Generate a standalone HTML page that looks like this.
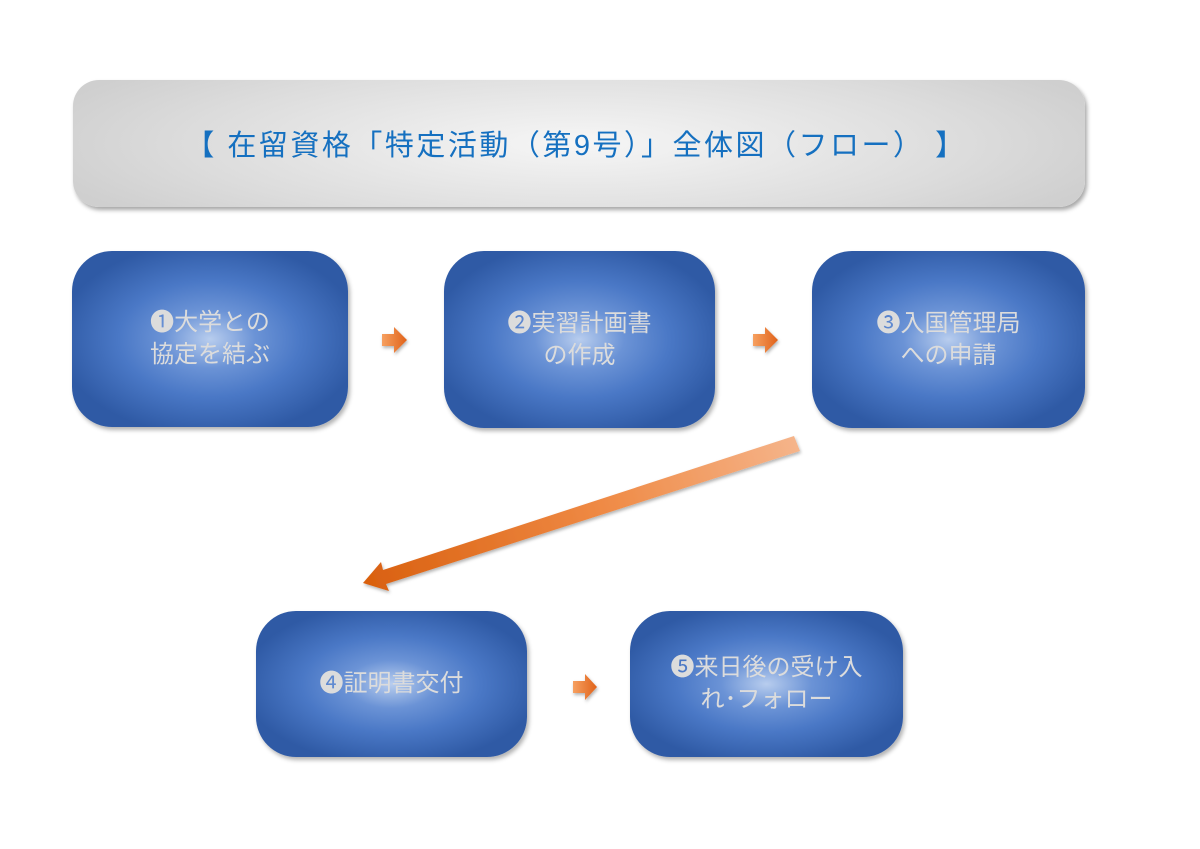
<!DOCTYPE html>
<html><head><meta charset="utf-8"><style>
body{margin:0;width:1200px;height:849px;background:#fff;position:relative;overflow:hidden;font-family:"Liberation Sans","Noto Sans CJK JP",sans-serif}
.title{position:absolute;left:73px;top:80px;width:1012px;height:127px;border-radius:26px;background:radial-gradient(ellipse 55% 90% at 50% 50%,#f6f6f6,#dcdcdc 70%,#cfcfcf);box-shadow:2px 3px 4px rgba(0,0,0,.35);}
.title span{position:absolute;left:-6px;right:0;top:42px;text-align:center;color:#1570c0;font-size:29px;letter-spacing:2.5px;white-space:nowrap}
.box{position:absolute;border-radius:40px;background:radial-gradient(ellipse 55% 55% at 50% 50%,#b8cdee 0%,#6b93d6 30%,#4a78c6 60%,#2f5aa5 100%);box-shadow:2px 3px 4px rgba(0,0,0,.3);color:#dcdcdc;font-size:24px;line-height:32px;display:flex;align-items:center;justify-content:center;text-align:center}
</style></head><body>
<div class="title"><span>【 在留資格「特定活動（第9号）」全体図（フロー） 】</span></div>
<div class="box" style="left:72px;top:251px;width:276px;height:176px">❶大学との<br>協定を結ぶ</div>
<div class="box" style="left:444px;top:251px;width:271px;height:177px">❷実習計画書<br>の作成</div>
<div class="box" style="left:812px;top:251px;width:273px;height:177px">❸入国管理局<br>への申請</div>
<div class="box" style="left:256px;top:611px;width:271px;height:146px">❹証明書交付</div>
<div class="box" style="left:630px;top:611px;width:273px;height:146px">❺来日後の受け入<br>れ･フォロー</div>
<svg width="1200" height="849" style="position:absolute;left:0;top:0">
<defs>
<linearGradient id="sg" x1="0" y1="0" x2="1" y2="0"><stop offset="0" stop-color="#f6a060"/><stop offset="1" stop-color="#e0621a"/></linearGradient>
<linearGradient id="bg" x1="797" y1="443" x2="365" y2="582" gradientUnits="userSpaceOnUse"><stop offset="0" stop-color="#f5b48a"/><stop offset="0.45" stop-color="#ef8a45"/><stop offset="1" stop-color="#d9600f"/></linearGradient>
<filter id="sh"><feDropShadow dx="1" dy="2" stdDeviation="1.5" flood-opacity="0.3"/></filter>
</defs>
<g filter="url(#sh)">
<polygon points="382,334 394,334 394,327 407,340 394,353 394,346 382,346" fill="url(#sg)"/>
<polygon points="753,334 765,334 765,327 778,340 765,353 765,346 753,346" fill="url(#sg)"/>
<polygon points="573,681 585,681 585,674 597,687 585,700 585,693 573,693" fill="url(#sg)"/>
<polygon points="794,436 800,451 386,584 389,591 363,583 381,562 383,570" fill="url(#bg)"/>
</g>
</svg>
</body></html>
